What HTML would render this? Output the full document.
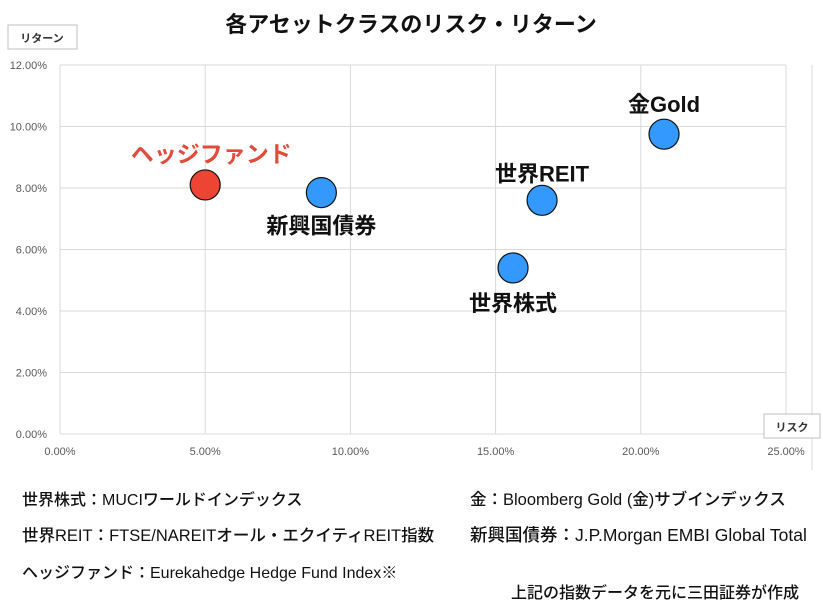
<!DOCTYPE html>
<html><head><meta charset="utf-8"><style>
body{margin:0;background:#fff;font-family:"Liberation Sans","Noto Sans CJK JP",sans-serif}
#wrap{position:relative;width:823px;height:608px;overflow:hidden}
.note{position:absolute;font-size:16px;color:#111;white-space:nowrap;font-weight:500}
</style></head><body>
<div id="wrap">
<svg id="chart" width="823" height="608" style="position:absolute;left:0;top:0"></svg>
<div class="note" style="left:22px;top:486px">世界株式：MUCIワールドインデックス</div>
<div class="note" style="left:470px;top:486px;font-size:16.5px">金：Bloomberg Gold (金)サブインデックス</div>
<div class="note" style="left:22px;top:522px;font-size:16.5px">世界REIT：FTSE/NAREITオール・エクイティREIT指数</div>
<div class="note" style="left:470px;top:522px;font-size:17.5px">新興国債券：J.P.Morgan EMBI Global Total</div>
<div class="note" style="left:22px;top:559px">ヘッジファンド：Eurekahedge Hedge Fund Index※</div>
<div class="note" style="left:511px;top:579px;font-size:16px">上記の指数データを元に三田証券が作成</div>
</div>
<script>
const names=["ヘッジファンド","新興国債券","世界株式","世界REIT","金Gold"];
const risk=[5.0,9.0,15.6,16.6,20.8];
const ret=[8.1,7.85,5.4,7.6,9.75];
const xTicks=[0,5,10,15,20,25];
const yTicks=[0,2,4,6,8,10,12];
const NS="http://www.w3.org/2000/svg";
const svg=document.getElementById('chart');
const X0=60,X1=786,Y0=434,Y1=65;
const xs=v=>X0+(v/25)*(X1-X0);
const ys=v=>Y0-(v/12)*(Y0-Y1);
function mk(t,a,txt){const e=document.createElementNS(NS,t);for(const k in a)e.setAttribute(k,a[k]);if(txt!=null)e.textContent=txt;svg.appendChild(e);return e;}
let e=mk('text',{x:411,y:32,'text-anchor':'middle','font-size':22,'font-weight':'bold',fill:'#111'},'各アセットクラスのリスク・リターン');


xTicks.forEach(t=>{
 let l=mk('line',{x1:xs(t),x2:xs(t),y1:Y1,y2:Y0,stroke:'#d9d9d9'});
 
 
 let tx=mk('text',{x:xs(t),y:455,'text-anchor':'middle','font-size':11,fill:'#595959'},t.toFixed(2)+'%');
 
 
});
yTicks.forEach(t=>{
 let l=mk('line',{x1:X0,x2:X1,y1:ys(t),y2:ys(t),stroke:'#d9d9d9'});
 
 
 let tx=mk('text',{x:47,y:ys(t)+4,'text-anchor':'end','font-size':11,fill:'#595959'},t.toFixed(2)+'%');
 
 
});
let r=mk('line',{x1:812,x2:812,y1:65,y2:470,stroke:'#d9d9d9'});


let yb=mk('rect',{x:8,y:25,width:69,height:24,fill:'#fff',stroke:'#bfbfbf'});


let yt=mk('text',{x:42,y:42,'text-anchor':'middle','font-size':11,'font-weight':'bold',fill:'#333'},'リターン');


let xb=mk('rect',{x:764,y:414,width:56,height:24,fill:'#fff',stroke:'#bfbfbf'});


let xt=mk('text',{x:792,y:431,'text-anchor':'middle','font-size':11,'font-weight':'bold',fill:'#333'},'リスク');


const lblOff=[[6,-23],[0,41],[0,43],[0,-19],[0,-22]];
names.forEach((n,i)=>{
 const cx=xs(risk[i]),cy=ys(ret[i]);
 let c=mk('circle',{cx:cx,cy:cy,r:15,fill:i===0?'#ee4433':'#3399ff',stroke:'#111','stroke-width':1.2});
 
 
 let t=mk('text',{x:cx+lblOff[i][0],y:cy+lblOff[i][1],'text-anchor':'middle','font-size':i===0?23:22,'font-weight':'bold',fill:i===0?'#e04b3a':'#111'},n);
 
 
});
</script>
</body></html>
